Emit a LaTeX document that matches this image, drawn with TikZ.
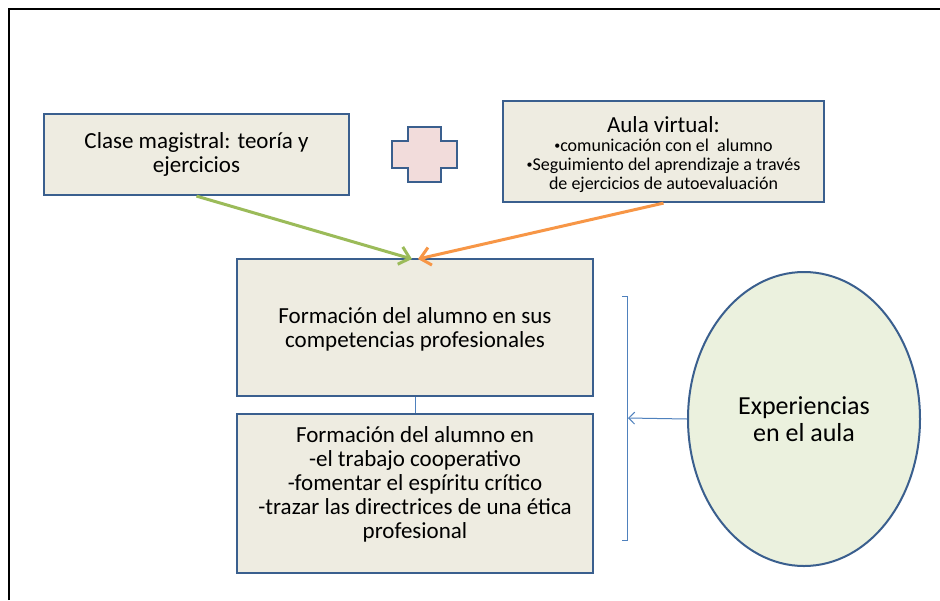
\documentclass[tikz,border=0pt]{standalone}
\usepackage{fontspec}
\setmainfont{Carlito}
\usetikzlibrary{arrows.meta,shapes.geometric}
\definecolor{boxfill}{HTML}{EEECE1}
\definecolor{boxline}{HTML}{3A5F8E}
\definecolor{crossfill}{HTML}{F2DCDB}
\definecolor{ellfill}{HTML}{EBF1DE}
\definecolor{thinblue}{HTML}{4F81BD}
\definecolor{arrgreen}{HTML}{9BBB59}
\definecolor{arrorange}{HTML}{F79646}
\newcommand{\mybul}{\raisebox{2.5pt}{\fontsize{12}{12}\selectfont •}}
\begin{document}
\begin{tikzpicture}[x=1pt,y=-1pt,
  box/.style={draw=boxline, line width=2.2pt, fill=boxfill, inner sep=0pt},
  boxtext/.style={align=center, inner sep=0pt, font=\fontsize{23}{24}\selectfont},
  thick connector/.style={line width=3pt, -{Straight Barb[length=10pt,width=18pt,line width=3pt]}},
  thin connector/.style={thinblue, line width=1pt}]
\useasboundingbox (0,0) rectangle (940,600);
\fill[white] (0,0) rectangle (940,600);
\draw[line width=2pt] (9,600) -- (9,9) -- (940,9);

% boxes
\node[box, minimum width=305pt, minimum height=81pt] (b1) at (196.5,154.5) {};
\node[boxtext] (t1) at (b1.center) {Clase magistral: teoría y\\ejercicios};

\node[box, minimum width=321pt, minimum height=101pt] (b2) at (663.5,151.5) {};
\node[align=center, inner sep=0pt, font=\fontsize{18}{19}\selectfont] (t2) at (663.5,155)
  {{\fontsize{23}{19}\selectfont Aula virtual:}\\
  \mybul comunicación con el\ \ alumno\\
  \mybul Seguimiento del aprendizaje a través\\
  de ejercicios de autoevaluación};

\node[box, minimum width=356pt, minimum height=137pt] (b3) at (415,327.5) {};
\node[boxtext] (t3) at (415,329.5) {Formación del alumno en sus\\competencias profesionales};

\node[box, minimum width=356pt, minimum height=159pt] (b4) at (415,493.5) {};
\node[boxtext] (t4) at (415,484) {Formación del alumno en\\-el trabajo cooperativo\\-fomentar el espíritu crítico\\-trazar las directrices de una ética\\profesional};

% plus sign
\draw[boxline, line width=2.5pt, fill=crossfill, line join=miter]
  (408,127) -- (441,127) -- (441,141) -- (457,141) -- (457,168) -- (441,168)
  -- (441,182) -- (408,182) -- (408,168) -- (392,168) -- (392,141) -- (408,141) -- cycle;

% ellipse
\node[ellipse, draw=boxline, line width=2pt, fill=ellfill, minimum width=232pt,
  minimum height=294pt, inner sep=0pt, align=center,
  font=\fontsize{26}{27}\selectfont] (ell) at (804,419) {Experiencias\\en el aula};

% connectors
\coordinate (gtip) at (412,259);
\coordinate (otip) at (418,259);
\draw[thick connector, arrgreen] (b1.south) -- (gtip);
\draw[thick connector, arrorange] (b2.south) -- (otip);
\draw[thin connector] (b3.south) -- (b4.north);

\coordinate (brt) at (627,296);
\coordinate (brb) at (627,540);
\coordinate (brk) at (628,418);
\draw[thin connector] ([xshift=-5pt]brt) -- (brt) -- (brb) -- ([xshift=-5pt]brb);
\draw[thin connector, -{Straight Barb[length=6pt,width=12pt]}] (ell.west) -- (brk);
\end{tikzpicture}
\end{document}
